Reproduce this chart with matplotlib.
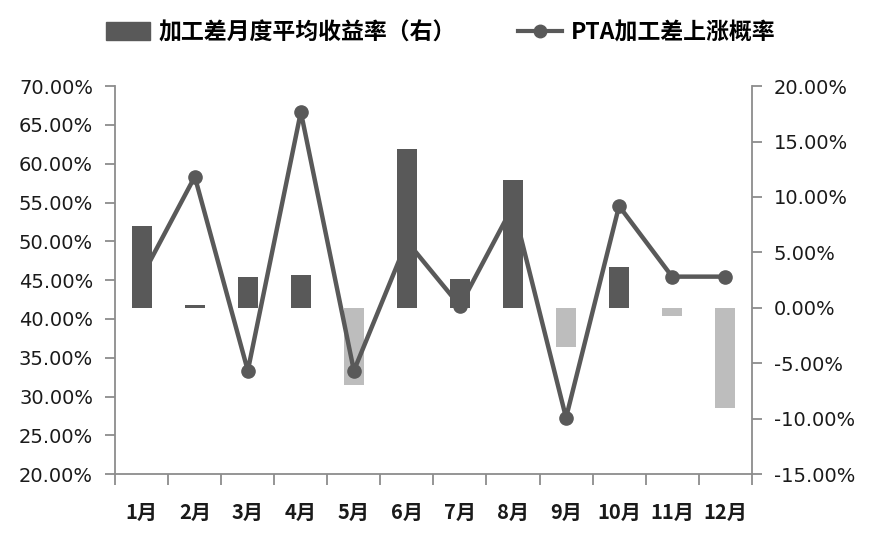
import numpy as np
import matplotlib
matplotlib.use("Agg")
import matplotlib.pyplot as plt
from matplotlib.ticker import FuncFormatter, FixedLocator
from matplotlib.patches import Patch
from matplotlib.lines import Line2D

plt.rcParams['font.family'] = ['DejaVu Sans', 'Noto Sans CJK SC']

# data
months = ["1月", "2月", "3月", "4月", "5月", "6月", "7月", "8月", "9月", "10月", "11月", "12月"]
up_prob = [45.45, 58.33, 33.33, 66.67, 33.33, 50.0, 41.67, 54.55, 27.27, 54.55, 45.45, 45.45]
avg_return = [7.4, 0.3, 2.8, 3.0, -7.0, 14.3, 2.6, 11.5, -3.5, 3.7, -0.7, -9.0]

bar_label = "加工差月度平均收益率（右）"
line_label = "PTA加工差上涨概率"

dark = "#595959"
light = "#bdbdbd"
axis_col = "#8c8c8c"

fig = plt.figure(figsize=(8.73, 5.45), dpi=100)
ax = fig.add_axes([0.132, 0.130, 0.729, 0.712])
ax2 = ax.twinx()

x = np.arange(len(months))
bar_colors = [dark if v >= 0 else light for v in avg_return]
ax2.bar(x, avg_return, width=0.38, color=bar_colors, zorder=2)

ax.plot(x, up_prob, color=dark, lw=3.2, marker="o", ms=9.5, zorder=3)
ax.set_zorder(ax2.get_zorder() + 1)
ax.patch.set_visible(False)

ax.set_xlim(-0.5, 11.5)
ax.set_ylim(20, 70)
ax2.set_ylim(-15, 20)
ax.set_yticks(np.arange(20, 71, 5))
ax2.set_yticks(np.arange(-15, 21, 5))
ax.yaxis.set_major_formatter(FuncFormatter(lambda v, p: f"{v:.2f}%"))
ax2.yaxis.set_major_formatter(FuncFormatter(lambda v, p: f"{v:.2f}%"))

# category labels between boundary ticks
ax.xaxis.set_major_locator(FixedLocator(np.arange(-0.5, 12, 1)))
ax.set_xticklabels([])
ax.set_xticks(x, minor=True)
ax.set_xticklabels(months, minor=True, fontsize=14.5, fontfamily="Noto Sans CJK SC",
                   fontweight="bold", color="#1a1a1a")
ax.tick_params(axis="x", which="minor", length=0, pad=20)
ax.tick_params(axis="x", which="major", length=8, color=axis_col, width=1.3)

for a in (ax, ax2):
    a.tick_params(axis="y", length=7, color=axis_col, width=1.3, labelsize=14,
                  labelcolor="#1a1a1a", pad=9)
    a.spines["top"].set_visible(False)
    for s in ("left", "right", "bottom"):
        a.spines[s].set_color(axis_col)
        a.spines[s].set_linewidth(1.3)
ax.spines["right"].set_visible(False)
ax2.spines["left"].set_visible(False)
ax2.spines["bottom"].set_visible(False)

handles = [Patch(color=dark),
           Line2D([], [], color=dark, lw=3, marker="o", ms=9)]
fig.legend(handles, [bar_label, line_label], loc="center",
           bbox_to_anchor=(0.505, 0.94), ncol=2, frameon=False,
           prop={"family": "Noto Sans CJK SC", "size": 16.5, "weight": "bold"},
           handlelength=1.9, handleheight=0.8, columnspacing=2.7, handletextpad=0.4)

fig.savefig("out.png", dpi=100)
